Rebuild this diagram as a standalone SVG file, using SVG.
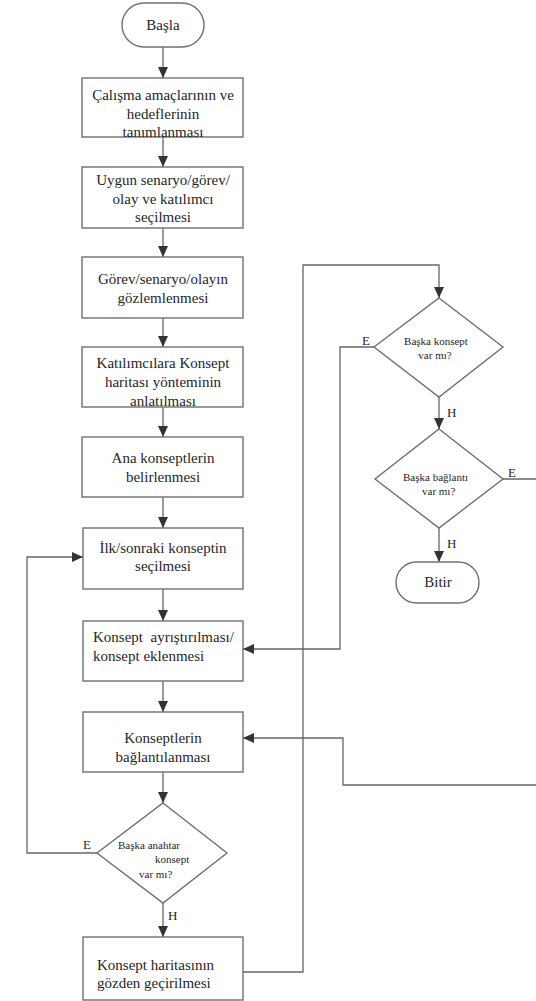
<svg xmlns="http://www.w3.org/2000/svg" width="536" height="1001" viewBox="0 0 536 1001">
<style>
.box{fill:#fff;stroke:#707070;stroke-width:1.4}
text{font-family:"Liberation Serif",serif;fill:#262626}
.t{font-size:15px}
.m{text-anchor:middle}
.s{font-size:11px}
.l{font-size:13px}
.c{fill:none;stroke:#666;stroke-width:1.3}
</style>
<defs>
<marker id="ah" markerUnits="userSpaceOnUse" markerWidth="12" markerHeight="10" refX="11" refY="5" orient="auto">
<path d="M0,0 L11,5 L0,10 z" fill="#333"/>
</marker>
</defs>
<rect width="536" height="1001" fill="#fff"/>
<g id="connectors">
<path class="c" d="M163,47 V78" marker-end="url(#ah)"/>
<path class="c" d="M163,137 V167" marker-end="url(#ah)"/>
<path class="c" d="M163,228 V257" marker-end="url(#ah)"/>
<path class="c" d="M163,318 V347" marker-end="url(#ah)"/>
<path class="c" d="M163,407 V437" marker-end="url(#ah)"/>
<path class="c" d="M163,497 V528" marker-end="url(#ah)"/>
<path class="c" d="M163,589 V621" marker-end="url(#ah)"/>
<path class="c" d="M163,681 V712" marker-end="url(#ah)"/>
<path class="c" d="M163,772 V803" marker-end="url(#ah)"/>
<path class="c" d="M163,903 V937" marker-end="url(#ah)"/>
<path class="c" d="M97,853 H27 V557 H83" marker-end="url(#ah)"/>
<path class="c" d="M243,972 H303 V265 H439 V298" marker-end="url(#ah)"/>
<path class="c" d="M374,347 H340 V649 H243" marker-end="url(#ah)"/>
<path class="c" d="M439,397 V429" marker-end="url(#ah)"/>
<path class="c" d="M439,528 V562" marker-end="url(#ah)"/>
<path class="c" d="M503,479 H545 V785 H343 V738 H243" marker-end="url(#ah)"/>
<text class="l" x="83" y="849">E</text>
<text class="l" x="168" y="920">H</text>
<text class="l" x="362" y="345">E</text>
<text class="l" x="447" y="417">H</text>
<text class="l" x="508" y="477">E</text>
<text class="l" x="447" y="548">H</text>
</g>
<g id="start">
<rect class="box" x="122" y="3" width="82" height="44" rx="22"/>
<text class="t m" x="163" y="30">Başla</text>
</g>
<g id="n1">
<rect class="box" x="82" y="78" width="161" height="59"/>
<text class="t m" x="163" y="100">Çalışma amaçlarının ve</text>
<text class="t m" x="163" y="119">hedeflerinin</text>
<text class="t m" x="163" y="137">tanımlanması</text>
</g>
<g id="n2">
<rect class="box" x="82" y="167" width="161" height="61"/>
<text class="t m" x="163" y="185">Uygun senaryo/görev/</text>
<text class="t m" x="163" y="204">olay ve katılımcı</text>
<text class="t m" x="163" y="222">seçilmesi</text>
</g>
<g id="n3">
<rect class="box" x="82" y="257" width="161" height="61"/>
<text class="t m" x="163" y="284">Görev/senaryo/olayın</text>
<text class="t m" x="163" y="303">gözlemlenmesi</text>
</g>
<g id="n4">
<rect class="box" x="82" y="347" width="161" height="60"/>
<text class="t m" x="163" y="368">Katılımcılara Konsept</text>
<text class="t m" x="163" y="387">haritası yönteminin</text>
<text class="t m" x="163" y="406">anlatılması</text>
</g>
<g id="n5">
<rect class="box" x="82" y="437" width="161" height="60"/>
<text class="t m" x="163" y="463">Ana konseptlerin</text>
<text class="t m" x="163" y="482">belirlenmesi</text>
</g>
<g id="n6">
<rect class="box" x="83" y="528" width="160" height="61"/>
<text class="t m" x="163" y="553">İlk/sonraki konseptin</text>
<text class="t m" x="163" y="571">seçilmesi</text>
</g>
<g id="n7">
<rect class="box" x="83" y="621" width="160" height="60"/>
<text class="t" x="93" y="642" xml:space="preserve">Konsept  ayrıştırılması/</text>
<text class="t" x="93" y="661">konsept eklenmesi</text>
</g>
<g id="n8">
<rect class="box" x="83" y="712" width="160" height="60"/>
<text class="t m" x="163" y="743">Konseptlerin</text>
<text class="t m" x="163" y="762">bağlantılanması</text>
</g>
<g id="d3">
<polygon class="box" points="163,803 227,853 163,903 97,853"/>
<text class="s" x="118" y="849">Başka anahtar</text>
<text class="s" x="155" y="863">konsept</text>
<text class="s" x="139" y="878">var mı?</text>
</g>
<g id="n9">
<rect class="box" x="83" y="937" width="160" height="63"/>
<text class="t" x="97" y="970">Konsept haritasının</text>
<text class="t" x="97" y="988">gözden geçirilmesi</text>
</g>
<g id="d1">
<polygon class="box" points="439,298 503,347 439,397 374,347"/>
<text class="s m" x="436" y="345">Başka konsept</text>
<text class="s m" x="435" y="359">var mı?</text>
</g>
<g id="d2">
<polygon class="box" points="439,429 503,479 439,528 375,479"/>
<text class="s" x="403" y="481">Başka bağlantı</text>
<text class="s" x="422" y="495">var mı?</text>
</g>
<g id="end">
<rect class="box" x="396" y="562" width="83" height="41" rx="20.5"/>
<text class="t m" x="438" y="587">Bitir</text>
</g>
</svg>
